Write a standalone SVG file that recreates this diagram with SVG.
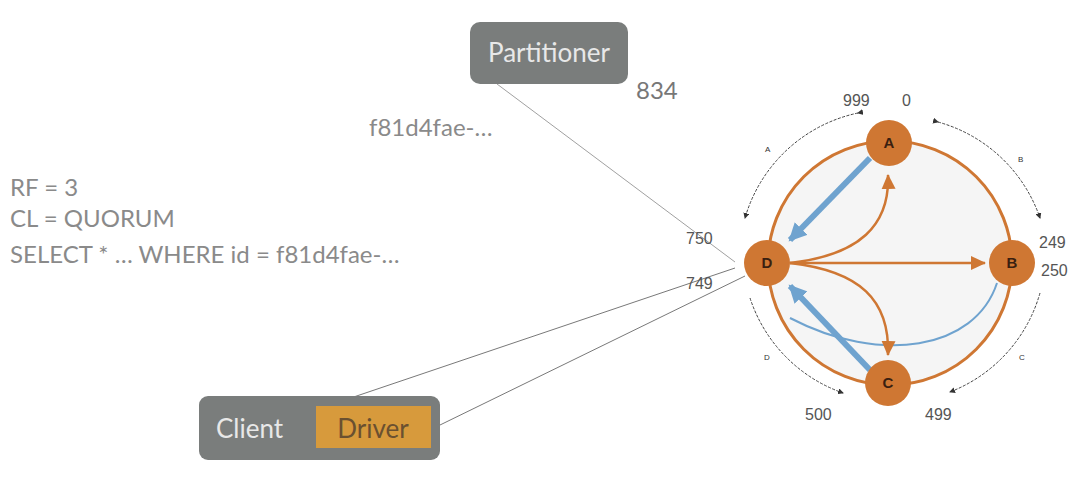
<svg xmlns="http://www.w3.org/2000/svg" width="1090" height="480" viewBox="0 0 1090 480">
<style>
.t{font-family:"Lato","Liberation Sans",sans-serif;fill:#8a8a8a}
.n{fill:#cf7733}
.nl{font-family:"Liberation Sans",sans-serif;font-weight:bold;font-size:15px;fill:#3a2010;text-anchor:middle}
.num{font-family:"Liberation Sans",sans-serif;font-size:16px;fill:#555}
.o{fill:none;stroke:#cf7733;stroke-width:2.5}
.b{fill:none;stroke:#6fa3cf}
.k{fill:none;stroke:#444;stroke-width:1;stroke-dasharray:3 1.5}
.kl{font-family:"Liberation Sans",sans-serif;font-size:8px;fill:#333}
</style>
<defs>
<marker id="ao" markerWidth="8" markerHeight="8" refX="7" refY="4" orient="auto" markerUnits="userSpaceOnUse"><path d="M0,0L8,4L0,8z" fill="#cf7733"/></marker>
<marker id="ab" markerWidth="20" markerHeight="18" refX="16" refY="9" orient="auto" markerUnits="userSpaceOnUse"><path d="M0,0L18,9L0,18z" fill="#6fa3cf"/></marker>
<marker id="ak" markerWidth="6" markerHeight="6" refX="5" refY="3" orient="auto" markerUnits="userSpaceOnUse"><path d="M0,0L6,3L0,6z" fill="#333"/></marker>
<marker id="aob" markerWidth="16" markerHeight="16" refX="14" refY="8" orient="auto" markerUnits="userSpaceOnUse"><path d="M0,1L15,8L0,15z" fill="#cf7733"/></marker>
</defs>
<circle cx="890" cy="263" r="122" fill="#f5f5f5" stroke="#cf7733" stroke-width="3"/>
<g id="connectors">
<line x1="497" y1="84" x2="735" y2="262" stroke="#888" stroke-width="0.8"/>
<line x1="330" y1="405" x2="735" y2="268" stroke="#555" stroke-width="0.8"/>
<line x1="440" y1="425" x2="745" y2="276" stroke="#555" stroke-width="0.8"/>
<path class="b" stroke-width="6" d="M870,158L790,240" marker-end="url(#ab)"/>
<path class="b" stroke-width="6" d="M870,370L790,286" marker-end="url(#ab)"/>
<path class="b" stroke-width="2" d="M997,283C975,350 880,365 790,318"/>
<path class="o" d="M790,263C860,255 890,225 888,175" marker-end="url(#aob)"/>
<path class="o" d="M790,263L985,263" marker-end="url(#aob)"/>
<path class="o" d="M790,263C860,271 890,300 888,355" marker-end="url(#aob)"/>
<path class="k" d="M858,113A150,150 0 0 0 745,218" marker-start="url(#ak)" marker-end="url(#ak)"/>
<path class="k" d="M938,122A150,150 0 0 1 1040,218" marker-start="url(#ak)" marker-end="url(#ak)"/>
<path class="k" d="M1040,293A150,150 0 0 1 950,392" marker-end="url(#ak)"/>
<path class="k" d="M750,298A150,150 0 0 0 843,393" marker-end="url(#ak)"/>
</g>
<text class="kl" x="765" y="152">A</text>
<text class="kl" x="1018" y="162">B</text>
<text class="kl" x="1019" y="360">C</text>
<text class="kl" x="764" y="360">D</text>
<g id="A"><circle class="n" cx="889" cy="143" r="23"/><text class="nl" x="889" y="148">A</text></g>
<g id="B"><circle class="n" cx="1012" cy="263" r="23"/><text class="nl" x="1012" y="268">B</text></g>
<g id="C"><circle class="n" cx="888" cy="383" r="23"/><text class="nl" x="888" y="388">C</text></g>
<g id="D"><circle class="n" cx="767" cy="263" r="23"/><text class="nl" x="767" y="268">D</text></g>
<text class="num" x="843" y="106">999</text>
<text class="num" x="902" y="106">0</text>
<text class="num" x="1039" y="248">249</text>
<text class="num" x="1041" y="276">250</text>
<text class="num" x="925" y="420">499</text>
<text class="num" x="805" y="420">500</text>
<text class="num" x="686" y="244">750</text>
<text class="num" x="686" y="289">749</text>
<g id="partitioner"><rect x="470" y="22" width="158" height="62" rx="10" fill="#7a7d7c"/><text class="t" x="549" y="62" font-size="26" text-anchor="middle" style="fill:#e8e8e8">Partitioner</text></g>
<text class="t" x="636" y="99" font-size="24" style="fill:#777">834</text>
<text class="t" x="369" y="136" font-size="24">f81d4fae-…</text>
<text class="t" x="10" y="196" font-size="24">RF = 3</text>
<text class="t" x="10" y="227" font-size="24">CL = QUORUM</text>
<text class="t" x="10" y="263" font-size="24">SELECT * … WHERE id = f81d4fae-…</text>
<g id="client"><rect x="199" y="396" width="241" height="64" rx="9" fill="#7a7d7c"/><text class="t" x="216" y="438" font-size="26" style="fill:#e8e8e8">Client</text><rect x="316" y="406" width="115" height="42" fill="#d79a3c"/><text class="t" x="373" y="438" font-size="26" text-anchor="middle" style="fill:#6a5030">Driver</text></g>
</svg>
